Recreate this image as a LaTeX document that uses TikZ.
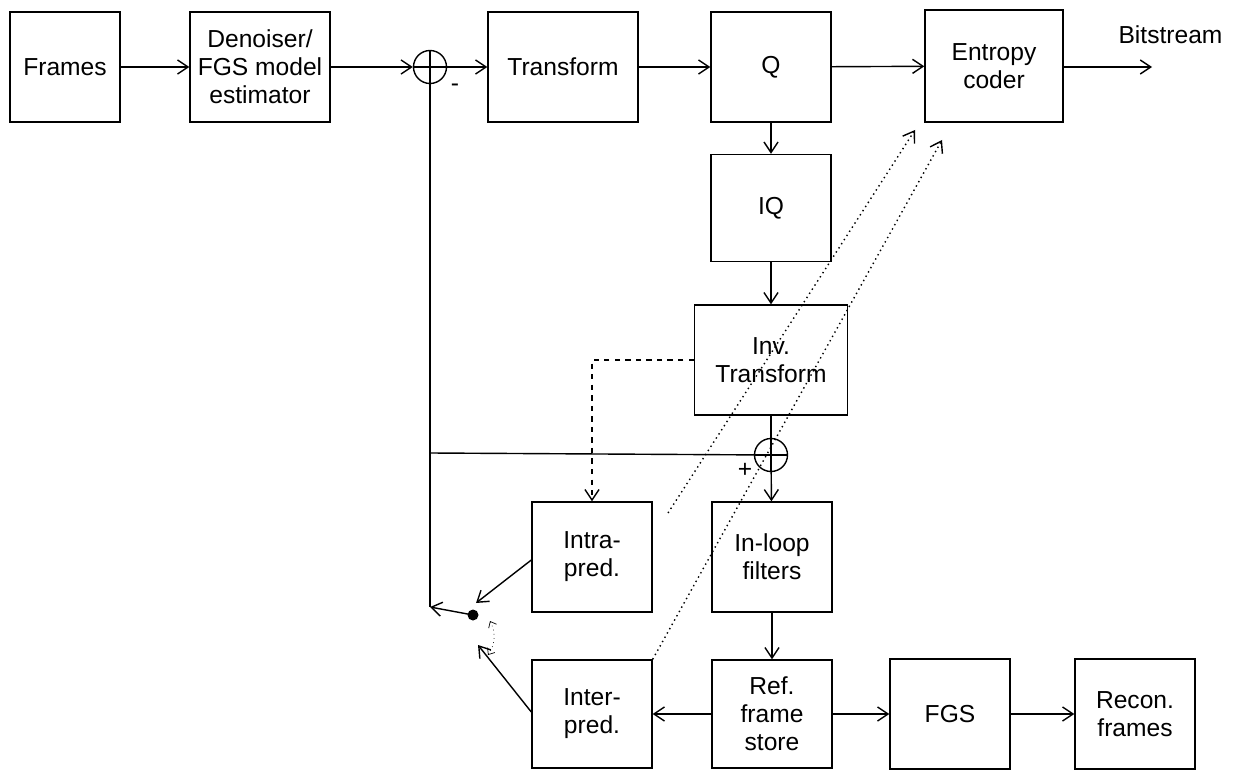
\documentclass[tikz,border=0pt]{standalone}
\usepackage{fontspec}
\setmainfont{Liberation Sans}
\usetikzlibrary{arrows.meta}
\begin{document}
\begin{tikzpicture}[x=0.02cm,y=-0.02cm,thick,>={Straight Barb[length=6pt,width=8pt]},
    font=\fontsize{14}{16}\selectfont,
    blk/.style={draw,rectangle,align=center,minimum width=2.4cm,minimum height=2.2cm,inner sep=2pt},
    sum/.style={draw,circle,minimum size=0.66cm,inner sep=0pt,path picture={\draw (path picture bounding box.north) -- (path picture bounding box.south) (path picture bounding box.west) -- (path picture bounding box.east);}}]
\useasboundingbox (0,0) rectangle (1239,783);
\node[blk,minimum width=2.2cm] at (65,67) (frames) {Frames};
\node[blk,minimum width=2.8cm] at (260,67) (den) {Denoiser/\\FGS model\\estimator};
\node[sum] at (430,67) (s1) {};
\node[blk,minimum width=3cm] at (563,67) (tr) {Transform};
\node[blk] at (771,67) (q) {Q};
\node[blk,minimum width=2.76cm,minimum height=2.24cm] at (994,66) (ec) {Entropy\\coder};
\node[anchor=west] at (1112,35) (bs) {Bitstream};
\coordinate (bsend) at (1152,67);
\node[blk,minimum height=2.14cm] at (771,208) (iq) {IQ};
\node[blk,minimum width=3.06cm] at (771,360) (itr) {Inv.\\Transform};
\node[sum] at (771,455) (s2) {};
\node[blk] at (592,557) (intra) {Intra-\\pred.};
\node[blk] at (772,557) (filt) {In-loop\\filters};
\node[blk,minimum height=2.16cm] at (592,714) (inter) {Inter-\\pred.};
\node[blk,minimum height=2.16cm] at (772,714) (ref) {Ref.\\frame\\store};
\node[blk] at (950,714) (fgs) {FGS};
\node[blk] at (1135,714) (rec) {Recon.\\frames};
\coordinate (corner) at (430,607);
\coordinate (sw) at (473,615);
\fill (sw) circle (5.5);

\draw[->] (frames) -- (den);
\draw[->] (den) -- (s1);
\draw[->] (s1) -- (tr);
\draw[->] (tr) -- (q);
\draw[->] (q) -- (ec);
\draw[->] (ec.east |- bsend) -- (bsend);
\draw[->] (q) -- (iq);
\draw[->] (iq) -- (itr);
\draw (itr) -- (s2);
\draw[->] (s2) -- (filt);
\draw[->] (filt) -- (ref);
\draw[->] (ref) -- (inter);
\draw[->] (ref) -- (fgs);
\draw[->] (fgs) -- (rec);
\draw (s1) -- (corner);
\draw (430,453) -- (s2);
\draw[->] (sw) -- (corner);
\draw[->] (intra.west |- 0,560) -- (476,603);
\draw[->] (inter.west |- 0,712) -- (478,645);
\draw[->,dashed] (itr.west) -| (intra.north);
\draw[<->,dotted,thin,>={Straight Barb[length=3pt,width=5pt]}] (490,621) to[bend left=30] (488,655);
\draw[->,dotted] (668,513) -- (915,130);
\draw[->,dotted] (inter.north east) -- (942,140);
\node at (455,88) (minus) {-};
\node at (745,470) (plus) {+};
\end{tikzpicture}
\end{document}
